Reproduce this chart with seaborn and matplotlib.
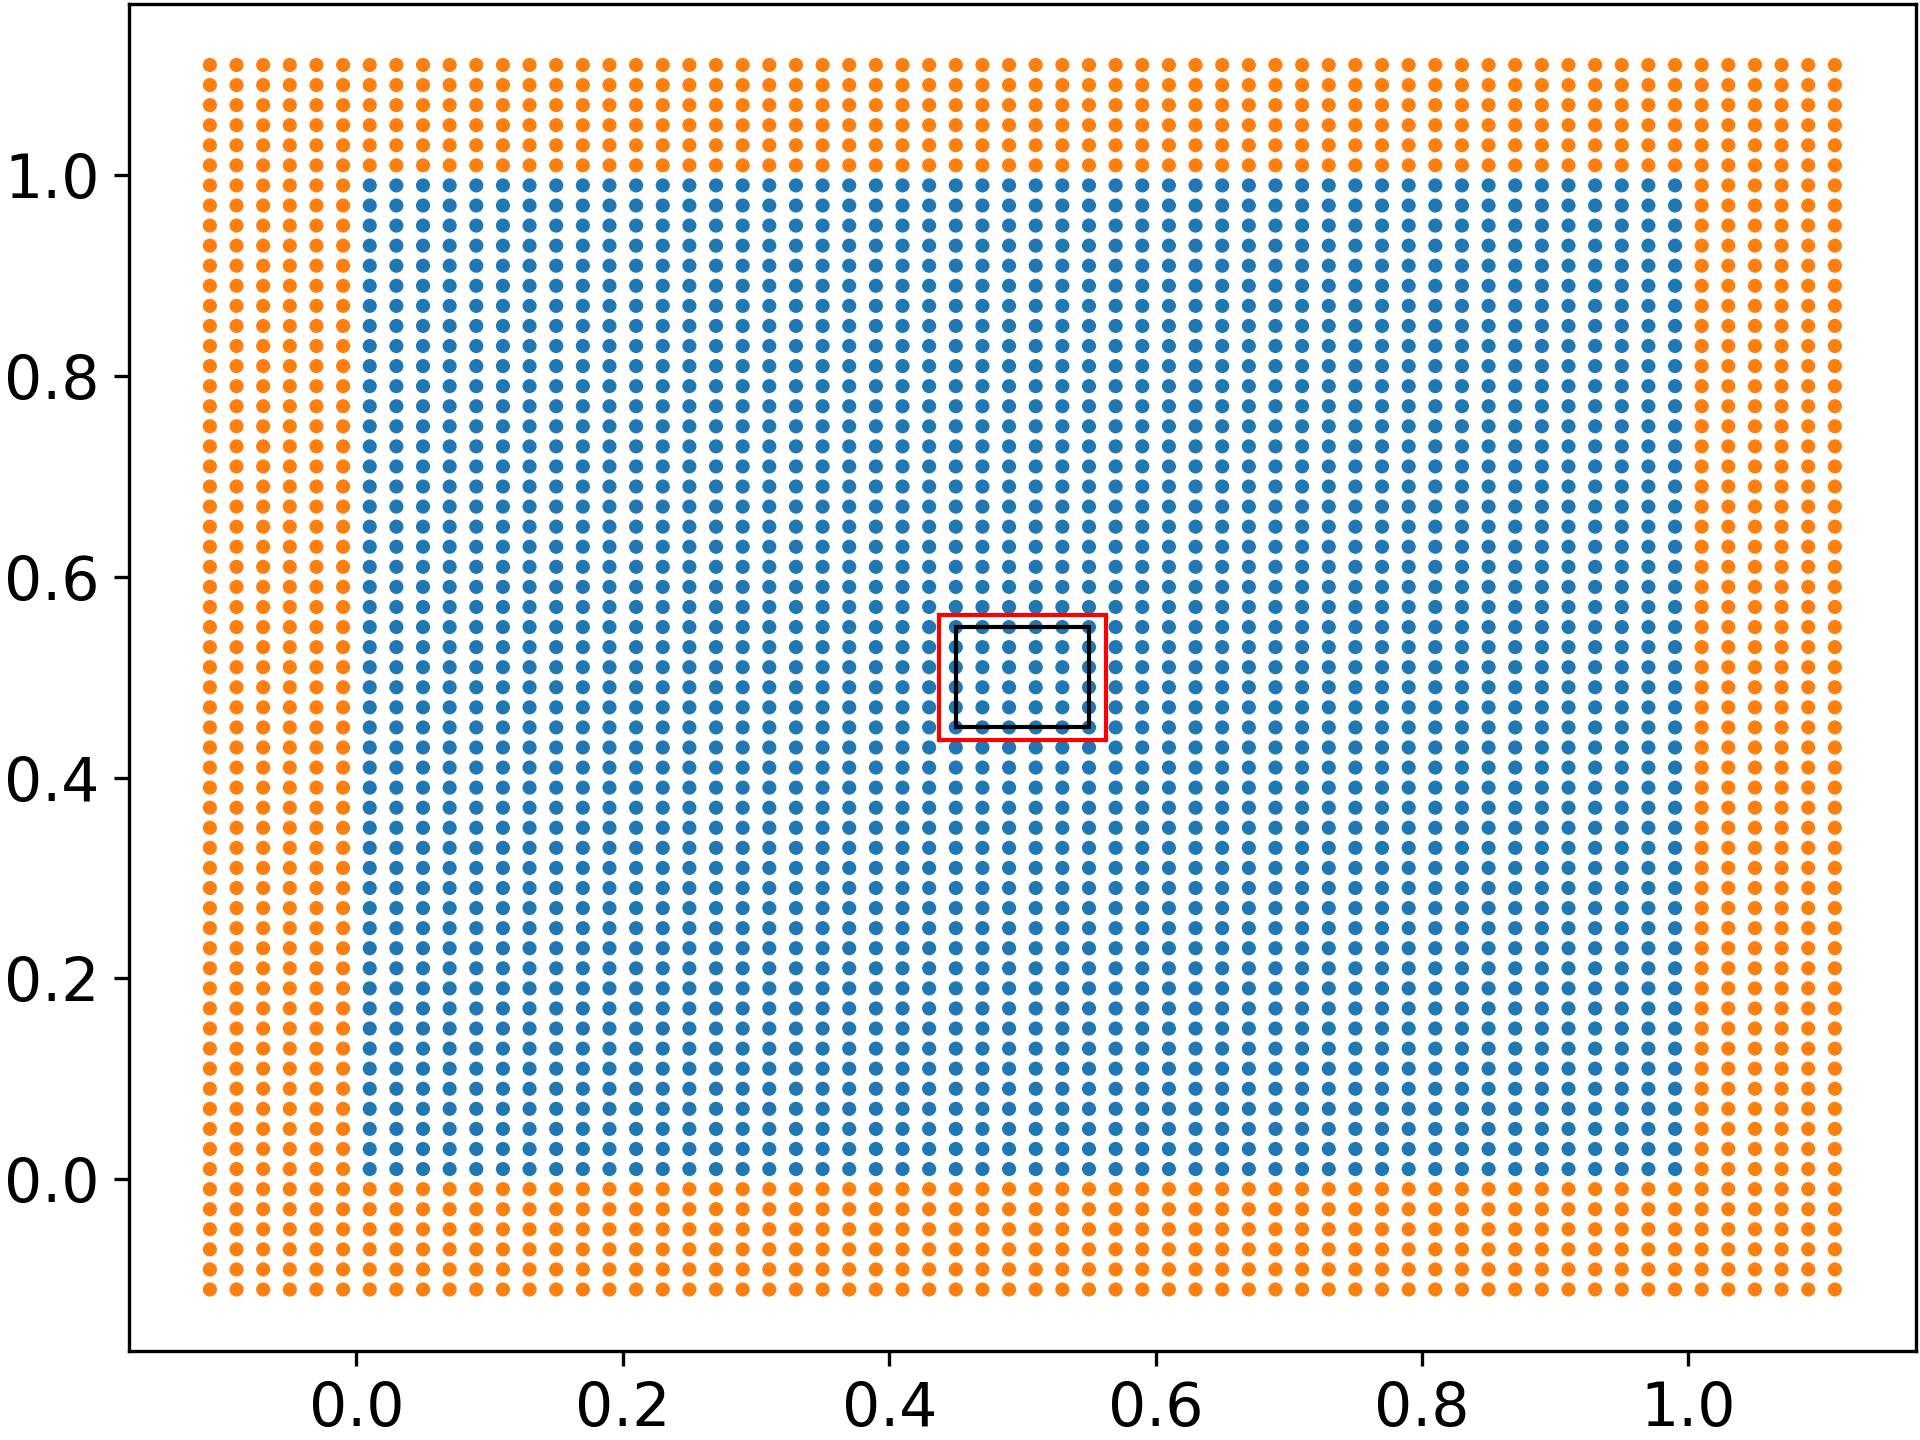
import numpy as np
import pandas as pd
import matplotlib
matplotlib.use('Agg')
import matplotlib.pyplot as plt
import seaborn as sns
from matplotlib.patches import Rectangle

# grid of cell centres, spacing 0.02
h = 0.02
n_ghost = 6
interior_lo, interior_hi = 0.01, 0.99

# boxes around the centre cell block
black_box = [0.45, 0.45, 0.55, 0.55]
red_box = [0.4375, 0.4375, 0.5625, 0.5625]

#build points
coords = np.round(np.arange(interior_lo - n_ghost*h, interior_hi + n_ghost*h + h/2, h), 4)
xx, yy = np.meshgrid(coords, coords)
pts = pd.DataFrame({'x': xx.ravel(), 'y': yy.ravel()})
inside = (pts.x > 0) & (pts.x < 1) & (pts.y > 0) & (pts.y < 1)
pts['kind'] = np.where(inside, 'interior', 'ghost')

plt.rcParams['font.size'] = 14.4
fig, ax = plt.subplots(figsize=(6.4, 4.8), dpi=300)
fig.subplots_adjust(left=0.067, right=0.998, top=0.9974, bottom=0.062)

sns.scatterplot(data=pts, x='x', y='y', hue='kind',
                hue_order=['interior', 'ghost'],
                palette={'interior': '#1f77b4', 'ghost': '#ff7f0e'},
                s=11.5, linewidth=0, legend=False, ax=ax)

ax.add_patch(Rectangle((red_box[0], red_box[1]), red_box[2]-red_box[0], red_box[3]-red_box[1],
                       fill=False, edgecolor='red', linewidth=1, zorder=3))
ax.add_patch(Rectangle((black_box[0], black_box[1]), black_box[2]-black_box[0], black_box[3]-black_box[1],
                       fill=False, edgecolor='black', linewidth=1, zorder=3))

ax.set_xlabel('')
ax.set_ylabel('')
ax.set_xticks([0.0, 0.2, 0.4, 0.6, 0.8, 1.0])
ax.set_yticks([0.0, 0.2, 0.4, 0.6, 0.8, 1.0])
ax.margins(0.05)

fig.savefig('out.png', dpi=300)
